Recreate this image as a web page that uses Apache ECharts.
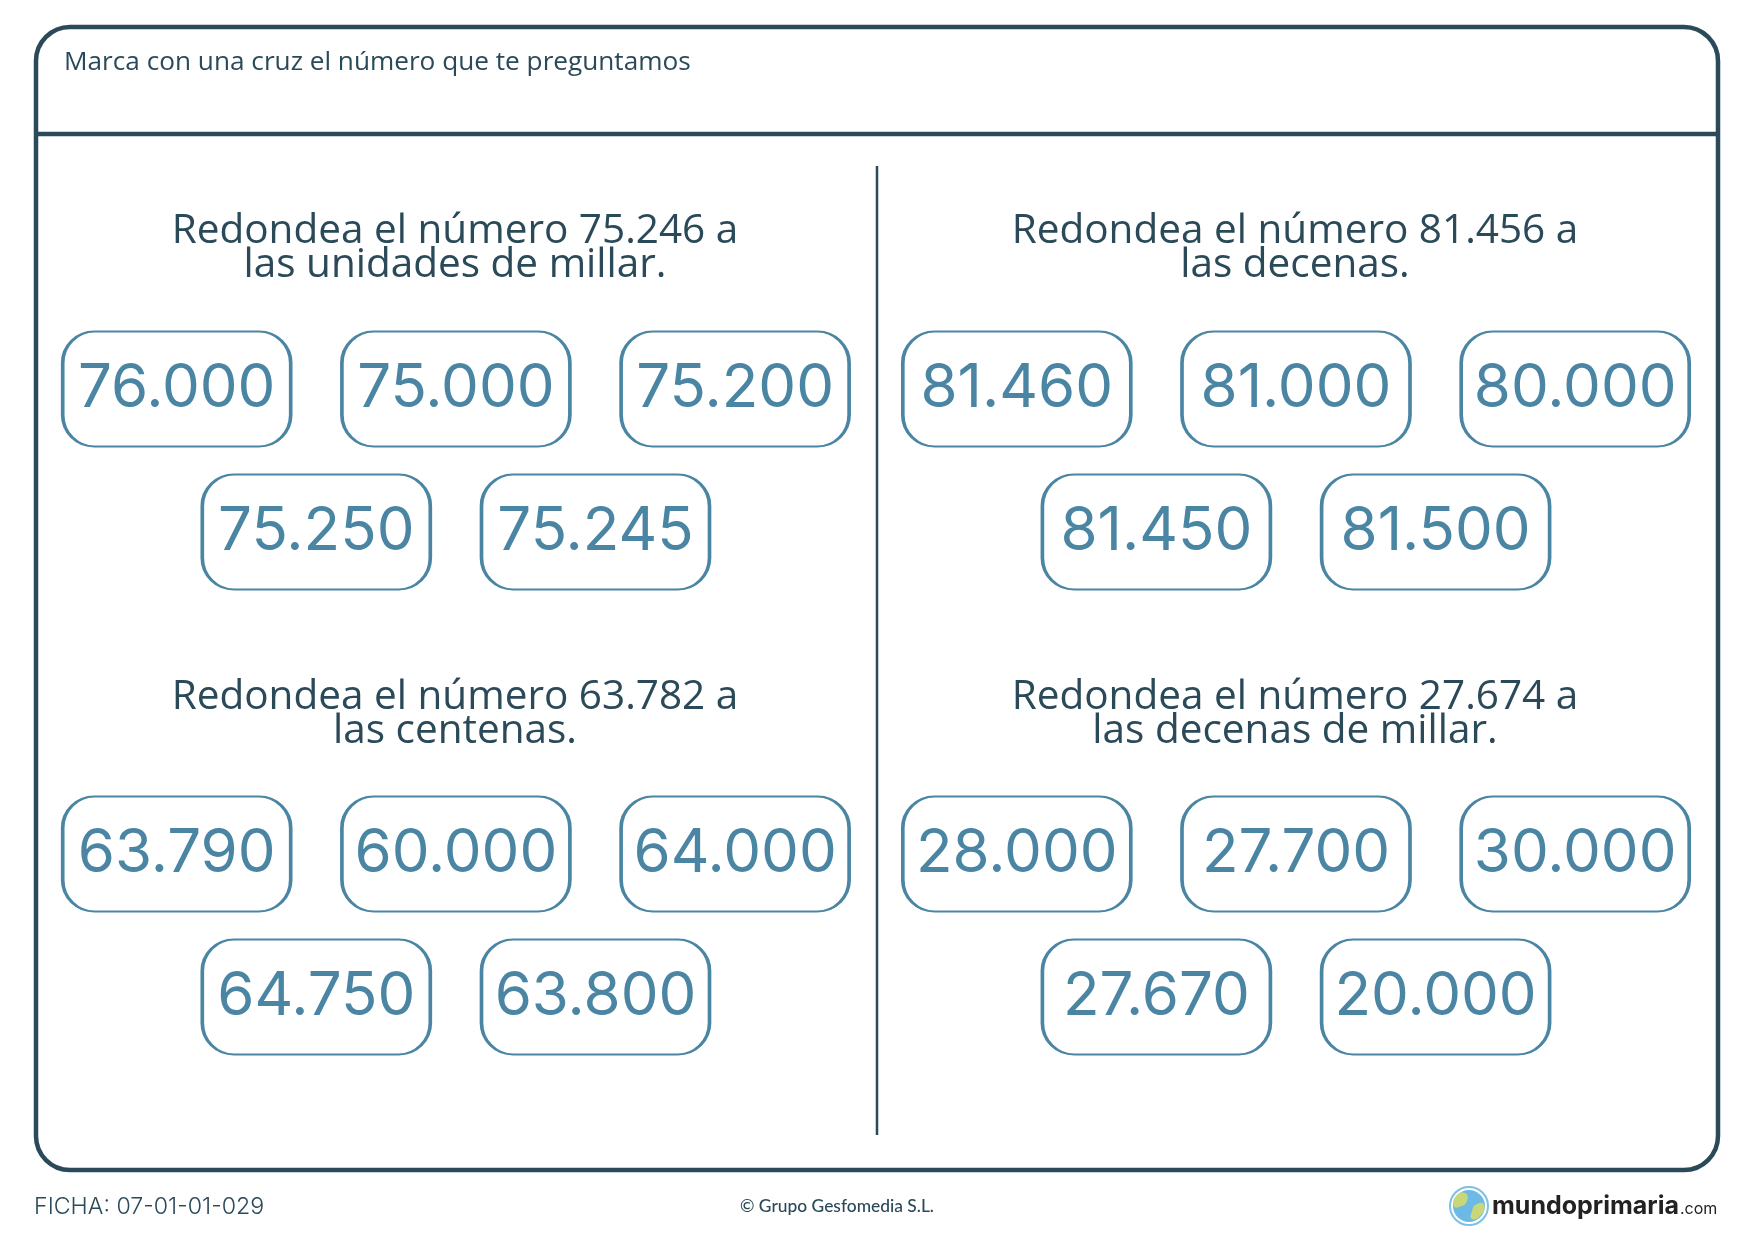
<!DOCTYPE html>
<html><head><meta charset="utf-8">
<style>html,body{margin:0;padding:0;background:#fff}#c{width:1754px;height:1240px}</style>
<script src="https://cdn.jsdelivr.net/npm/echarts@6/dist/echarts.min.js"></script>
</head><body><div id="c"></div>
<script>
const instruction = 'Marca con una cruz el número que te preguntamos';
const questions = [
  'Redondea el número 75.246 a\nlas unidades de millar.',
  'Redondea el número 81.456 a\nlas decenas.',
  'Redondea el número 63.782 a\nlas centenas.',
  'Redondea el número 27.674 a\nlas decenas de millar.'
];
const optionsA = [76000, 75000, 75200, 75250, 75245];
const optionsB = [81460, 81000, 80000, 81450, 81500];
const optionsC = [63790, 60000, 64000, 64750, 63800];
const optionsD = [28000, 27700, 30000, 27670, 20000];
const footerCode = 'FICHA: 07-01-01-029';
const footerCopy = '© Grupo Gesfomedia S.L.';
const brandName = 'mundoprimaria';
const brandTld = '.com';

const INK = '#2b4a59', BLUE = '#4a85a3';
const fmt = n => String(n).replace(/\B(?=(\d{3})+$)/g, '.');
const slotOf = i => i < 3 ? [i * 2, 0] : [(i - 3) * 2 + 1, 1];
const CARD = 'path://M32 0H198A32 32 0 0 1 230 32V85A32 32 0 0 1 198 117H32A32 32 0 0 1 0 85V32A32 32 0 0 1 32 0Z';
const panels = [
  {opts: optionsA, left: 37.1,  top: 317.5, tx: 455,  ty: 214},
  {opts: optionsB, left: 877.2, top: 317.5, tx: 1295, ty: 214},
  {opts: optionsC, left: 37.1,  top: 782.5, tx: 455,  ty: 680},
  {opts: optionsD, left: 877.2, top: 782.5, tx: 1295, ty: 680}
];
const grids = [], xs = [], ys = [], series = [], titles = [];
panels.forEach((p, k) => {
  grids.push({left: p.left, top: p.top, width: 837.6, height: 286});
  xs.push({type: 'value', gridIndex: k, min: -1, max: 5, show: false});
  ys.push({type: 'value', gridIndex: k, min: -0.5, max: 1.5, inverse: true, show: false});
  series.push({
    type: 'scatter', xAxisIndex: k, yAxisIndex: k, silent: true, clip: false,
    symbol: CARD, symbolSize: [228, 115],
    itemStyle: {color: '#fff', borderColor: BLUE, borderWidth: 2.6, opacity: 1},
    label: {show: true, position: 'inside', formatter: d => fmt(d.value[2]),
      fontFamily: 'Inter', fontWeight: 400, fontSize: 60, color: BLUE},
    data: p.opts.map((v, i) => [...slotOf(i), v])
  });
  titles.push({text: questions[k], left: p.tx, top: p.ty, textAlign: 'center', padding: 0,
    textStyle: {fontFamily: 'Open Sans', fontWeight: 400, fontSize: 40.5, lineHeight: 34, color: INK}});
});
titles.push({text: instruction, left: 64, top: 50, padding: 0,
  textStyle: {fontFamily: 'Open Sans', fontWeight: 400, fontSize: 26.2, color: INK}});
titles.push({text: footerCode, left: 34, top: 1196, padding: 0,
  textStyle: {fontFamily: 'Inter', fontWeight: 300, fontSize: 23.2, color: INK}});
titles.push({text: footerCopy, left: 837, top: 1198, textAlign: 'center', padding: 0,
  textStyle: {fontFamily: 'Lato', fontWeight: 500, fontSize: 17.4, color: INK}});
titles.push({text: brandName, left: 1492, top: 1194, padding: 0,
  textStyle: {fontFamily: 'Inter', fontWeight: 700, fontSize: 25, color: '#222'}});
titles.push({text: brandTld, left: 1680, top: 1201, padding: 0,
  textStyle: {fontFamily: 'Inter', fontWeight: 400, fontSize: 16, color: '#222'}});

const chart = echarts.init(document.getElementById('c'), null, {renderer: 'canvas'});
chart.setOption({
  animation: false, backgroundColor: '#fff', tooltip: {show: false},
  title: titles, grid: grids, xAxis: xs, yAxis: ys, series,
  graphic: [
    {type: 'rect', shape: {x: 36, y: 27, width: 1682, height: 1143, r: 34}, style: {fill: 'none', stroke: INK, lineWidth: 4.5}, silent: true},
    {type: 'line', shape: {x1: 36, y1: 134, x2: 1718, y2: 134}, style: {stroke: INK, lineWidth: 4.5}, silent: true},
    {type: 'line', shape: {x1: 877, y1: 166, x2: 877, y2: 1135}, style: {stroke: INK, lineWidth: 2.5}, silent: true},
    {type: 'circle', shape: {cx: 1469, cy: 1206, r: 19}, style: {fill: '#fff', stroke: '#7cc0e4', lineWidth: 2}, silent: true},
    {type: 'circle', shape: {cx: 1469, cy: 1206, r: 16}, style: {fill: '#6db9e6'}, silent: true},
    {type: 'polygon', shape: {smooth: 0.6, points: [[1456, 1196], [1465, 1193], [1467, 1201], [1459, 1207], [1454, 1206]]}, style: {fill: '#c9d77a'}, silent: true},
    {type: 'polygon', shape: {smooth: 0.6, points: [[1477, 1204], [1484, 1205], [1481, 1215], [1472, 1219], [1472, 1211]]}, style: {fill: '#c9d77a'}, silent: true}
  ]
});
</script></body></html>
